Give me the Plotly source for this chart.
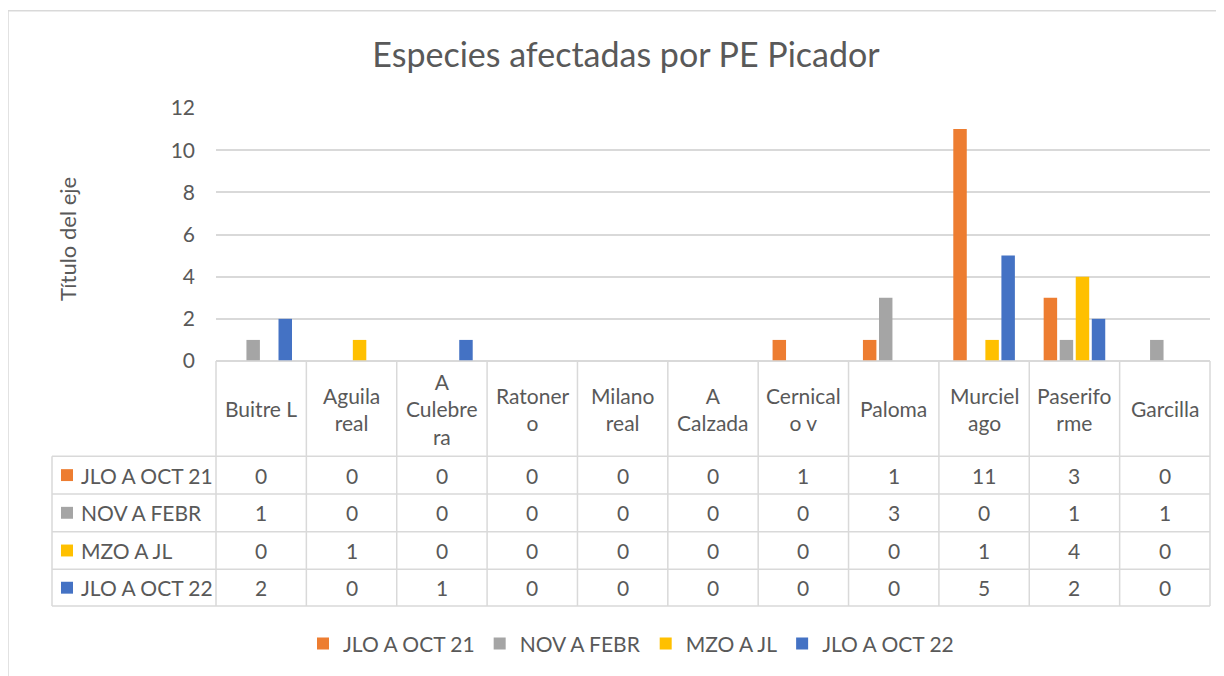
import plotly.graph_objects as go

# ---------------- data ----------------
categories = ["Buitre L", "Aguila real", "A Culebrera", "Ratonero", "Milano real",
              "A Calzada", "Cernicalo v", "Paloma", "Murcielago", "Paseriforme", "Garcilla"]
header_labels = ["Buitre L", "Aguila<br>real", "A<br>Culebre<br>ra", "Ratoner<br>o", "Milano<br>real",
                 "A<br>Calzada", "Cernical<br>o v", "Paloma", "Murciel<br>ago", "Paserifo<br>rme", "Garcilla"]
series_names = ["JLO A OCT 21", "NOV A FEBR", "MZO A JL", "JLO A OCT 22"]
jlo_oct_21 = [0, 0, 0, 0, 0, 0, 1, 1, 11, 3, 0]
nov_a_febr = [1, 0, 0, 0, 0, 0, 0, 3, 0, 1, 1]
mzo_a_jl = [0, 1, 0, 0, 0, 0, 0, 0, 1, 4, 0]
jlo_oct_22 = [2, 0, 1, 0, 0, 0, 0, 0, 5, 2, 0]
series_values = [jlo_oct_21, nov_a_febr, mzo_a_jl, jlo_oct_22]
colors = ["#ED7D31", "#A5A5A5", "#FFC000", "#4472C4"]
y_ticks = [0, 2, 4, 6, 8, 10, 12]
title = "Especies afectadas por PE Picador"
y_title = "Título del eje"

# ---------------- layout geometry ----------------
OFF = 8  # page body margin
FW, FH = 1224 - OFF, 676 - OFF
# reference-pixel positions of the plot area
RL, RR, RT, RB = 216, 1210, 108, 363
L, R, T, B = RL - OFF, RR - OFF, RT - OFF, RB - OFF
W, H = R - L, B - T
TXT = "#595959"
GRID = "#D9D9D9"
FONT = "Lato"


def fx(px):
    return (px - RL) / W


def fy(py):
    return (RB - py) / H


fig = go.Figure()
for name, vals, col in zip(series_names, series_values, colors):
    fig.add_trace(go.Bar(x=categories, y=vals, name=name, marker=dict(color=col, line=dict(width=0))))

n = len(categories)
shapes = []
annotations = []

# outer chart border
shapes.append(dict(type="line", xref="paper", yref="paper", x0=fx(8), x1=fx(8), y0=fy(10), y1=fy(690),
                   line=dict(color=GRID, width=1.5)))
shapes.append(dict(type="line", xref="paper", yref="paper", x0=fx(8), x1=fx(1240), y0=fy(10), y1=fy(10),
                   line=dict(color=GRID, width=1.5)))

# data table
row_edges = [459, 497, 535, 573, 610]
left_px = 52
for i in range(n + 1):
    xb = i / n
    shapes.append(dict(type="line", xref="paper", yref="paper", x0=xb, x1=xb, y0=fy(RB), y1=fy(row_edges[-1]),
                       line=dict(color=GRID, width=1.5)))
shapes.append(dict(type="line", xref="paper", yref="paper", x0=fx(left_px), x1=fx(left_px),
                   y0=fy(row_edges[0]), y1=fy(row_edges[-1]), line=dict(color=GRID, width=1.5)))
shapes.append(dict(type="line", xref="paper", yref="paper", x0=0, x1=1, y0=fy(RB), y1=fy(RB),
                   line=dict(color=GRID, width=1.5)))
for ry in row_edges:
    shapes.append(dict(type="line", xref="paper", yref="paper", x0=fx(left_px), x1=1, y0=fy(ry), y1=fy(ry),
                       line=dict(color=GRID, width=1.5)))

for i, lab in enumerate(header_labels):
    annotations.append(dict(xref="paper", yref="paper", x=(i + 0.5) / n, y=fy((RB + row_edges[0]) / 2),
                            text=lab, showarrow=False, xanchor="center", yanchor="middle",
                            font=dict(size=21, color=TXT, family=FONT)))

for r, (name, vals, col) in enumerate(zip(series_names, series_values, colors)):
    cy = (row_edges[r] + row_edges[r + 1]) / 2
    shapes.append(dict(type="rect", xref="paper", yref="paper", x0=fx(61), x1=fx(73),
                       y0=fy(cy - 6), y1=fy(cy + 6), fillcolor=col, line=dict(width=0)))
    annotations.append(dict(xref="paper", yref="paper", x=fx(79), y=fy(cy), text=name, showarrow=False,
                            xanchor="left", yanchor="middle", font=dict(size=21, color=TXT, family=FONT)))
    for i, v in enumerate(vals):
        annotations.append(dict(xref="paper", yref="paper", x=(i + 0.5) / n, y=fy(cy), text=str(v),
                                showarrow=False, xanchor="center", yanchor="middle",
                                font=dict(size=21, color=TXT, family=FONT)))

annotations.append(dict(xref="paper", yref="paper", x=fx(68), y=fy(240), text=y_title, textangle=-90,
                        showarrow=False, xanchor="center", yanchor="middle",
                        font=dict(size=22, color=TXT, family=FONT)))

fig.update_layout(
    width=FW, height=FH, autosize=False,
    margin=dict(l=L, r=FW - R, t=T, b=FH - B, pad=0),
    paper_bgcolor="white", plot_bgcolor="white",
    font=dict(family=FONT, color=TXT, size=20),
    title=dict(text=title, x=fx(626), xref="paper", xanchor="center", y=1 - (55 - OFF) / FH, yref="container",
               yanchor="middle", font=dict(size=34, color=TXT, family=FONT)),
    barmode="group", bargap=0.29, bargroupgap=0.16,
    xaxis=dict(showticklabels=False, showgrid=False, zeroline=False, showline=False, ticks="",
               range=[-0.5, n - 0.5], fixedrange=True),
    yaxis=dict(range=[0, 12], tickvals=y_ticks, showgrid=True, gridcolor=GRID, gridwidth=1.5,
               zeroline=True, zerolinecolor=GRID, zerolinewidth=1.5, showline=False, ticks="",
               ticklabelstandoff=20, tickfont=dict(size=21, color=TXT, family=FONT), fixedrange=True),
    legend=dict(orientation="h", x=fx(631), xanchor="center", y=fy(648), yanchor="middle",
                font=dict(size=21, color=TXT, family=FONT), traceorder="normal", itemclick=False),
    shapes=shapes,
    annotations=annotations,
    showlegend=True,
)

fig.write_html("out.html")
